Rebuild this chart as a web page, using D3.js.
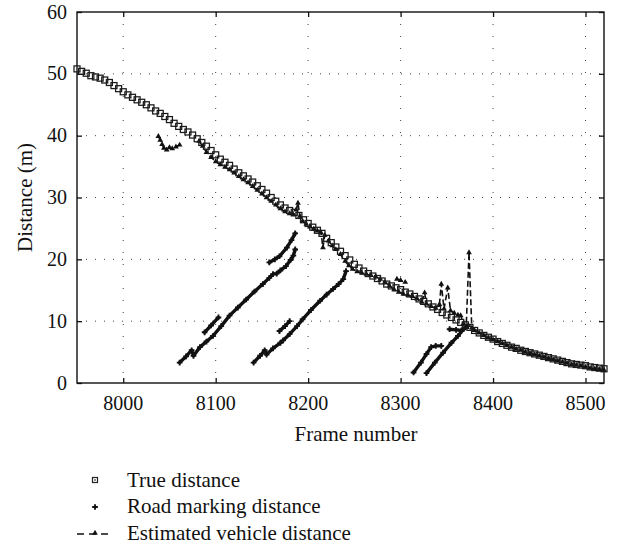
<html>
<head>
<meta charset="utf-8">
<title>Distance vs frame number</title>
<style>
	body { margin: 0; background: #fff; }
	text { font-family: "Liberation Serif", "DejaVu Serif", serif; fill: #111; }
</style>
</head>
<body>
<script src="https://cdn.jsdelivr.net/npm/d3@7"></script>
<div id="chart"></div>

<script language="javascript">

	// tick labels
	var x_ticks = [8000, 8100, 8200, 8300, 8400, 8500];
	var y_ticks = [0, 10, 20, 30, 40, 50, 60];

	// true distance, every 5 frames
	var true_frames = [7950, 7955, 7960, 7965, 7970, 7975, 7980, 7985, 7990, 7995,
		8000, 8005, 8010, 8015, 8020, 8025, 8030, 8035, 8040, 8045,
		8050, 8055, 8060, 8065, 8070, 8075, 8080, 8085, 8090, 8095,
		8100, 8105, 8110, 8115, 8120, 8125, 8130, 8135, 8140, 8145,
		8150, 8155, 8160, 8165, 8170, 8175, 8180, 8185, 8190, 8195,
		8200, 8205, 8210, 8215, 8220, 8225, 8230, 8235, 8240, 8245,
		8250, 8255, 8260, 8265, 8270, 8275, 8280, 8285, 8290, 8295,
		8300, 8305, 8310, 8315, 8320, 8325, 8330, 8335, 8340, 8345,
		8350, 8355, 8360, 8365, 8370, 8375, 8380, 8385, 8390, 8395,
		8400, 8405, 8410, 8415, 8420, 8425, 8430, 8435, 8440, 8445,
		8450, 8455, 8460, 8465, 8470, 8475, 8480, 8485, 8490, 8495,
		8500, 8505, 8510, 8515, 8520];
	var true_dist = [50.8, 50.4, 50.1, 49.7, 49.5, 49.3, 49.0, 48.6, 48.1, 47.6,
		47.1, 46.6, 46.2, 45.8, 45.4, 45.0, 44.5, 44.0, 43.6, 43.1,
		42.6, 42.0, 41.5, 41.0, 40.6, 40.1, 39.5, 38.9, 38.3, 37.6,
		36.9, 36.2, 35.7, 35.2, 34.6, 34.0, 33.5, 33.0, 32.5, 31.9,
		31.3, 30.7, 30.0, 29.4, 28.8, 28.3, 27.9, 27.6, 27.1, 26.4,
		25.8, 25.2, 24.7, 24.2, 23.4, 22.7, 22.0, 21.3, 20.6, 19.9,
		19.2, 18.6, 18.1, 17.7, 17.3, 16.9, 16.5, 16.0, 15.7, 15.4,
		15.1, 14.7, 14.4, 14.0, 13.6, 13.2, 12.8, 12.3, 11.9, 11.4,
		11.0, 10.6, 10.2, 9.8, 9.4, 9.0, 8.5, 8.1, 7.7, 7.4,
		7.1, 6.7, 6.4, 6.1, 5.8, 5.6, 5.3, 5.1, 4.9, 4.7,
		4.5, 4.3, 4.1, 3.9, 3.7, 3.5, 3.3, 3.1, 3.0, 2.9,
		2.8, 2.6, 2.5, 2.4, 2.3];

	// road marking distance, one array of [frame, distance] per run
	var rm_run1 = [[8061, 3.3], [8068, 4.3], [8074, 5.3], [8076, 4.4], [8083, 5.8], [8090, 6.7], [8097, 7.6],
		[8106, 9.2], [8115, 10.9], [8124, 12.2], [8133, 13.5], [8142, 14.8], [8151, 16.0], [8158, 17.0],
		[8162, 17.6], [8166, 17.7], [8170, 18.2], [8176, 18.9], [8181, 19.9], [8184, 20.6], [8186, 21.6]];
	var rm_run2 = [[8088, 8.2], [8095, 9.3], [8103, 10.6]];
	var rm_run3 = [[8158, 19.5], [8164, 20.0], [8169, 20.5], [8177, 21.9], [8182, 23.1], [8186, 24.2]];
	var rm_run4 = [[8141, 3.3], [8148, 4.4], [8153, 5.3], [8155, 4.6], [8162, 5.6], [8170, 6.5], [8173, 6.9],
		[8180, 7.9], [8188, 9.2], [8194, 10.3], [8203, 11.8], [8213, 13.3], [8220, 14.3], [8227, 15.2],
		[8233, 16.0], [8238, 16.8], [8241, 18.1]];
	var rm_run5 = [[8169, 8.4], [8175, 9.2], [8180, 10.0]];
	var rm_run6 = [[8314, 1.7], [8322, 3.3], [8328, 4.7], [8333, 5.8], [8338, 6.0], [8344, 6.0]];
	var rm_run7 = [[8328, 1.6], [8337, 3.3], [8346, 4.9], [8355, 6.5], [8362, 7.6], [8368, 8.7], [8373, 9.2]];
	var rm_run8 = [[8353, 8.7], [8360, 8.6], [8366, 8.5]];

	// estimated vehicle distance (null = no estimate)
	var est_frames = [8038, 8040, 8042, 8044, 8047, 8050, 8053, 8057, 8061, 8070,
		8082, 8086, 8090, 8095, 8100, 8105, 8110, 8115, 8120, 8125,
		8130, 8135, 8140, 8145, 8150, 8155, 8160, 8165, 8170, 8175,
		8180, 8184, 8187, 8189, 8191, 8194, 8198, 8202, 8206, 8210,
		8214, 8216, 8218, 8222, 8226, 8230, 8235, 8240, 8244, 8248,
		8253, 8258, 8263, 8268, 8273, 8278, 8283, 8288, 8293, 8298,
		8303, 8308, 8313, 8318, 8323, 8326, 8328, 8333, 8338, 8342,
		8344, 8347, 8351, 8354, 8358, 8362, 8365, 8368, 8371, 8374,
		8377, 8380, 8385, 8390, 8395, 8400, 8405, 8410, 8415, 8420,
		8425, 8430, 8435, 8440, 8445, 8450, 8455, 8460, 8465, 8470,
		8475, 8480, 8485, 8490, 8495, 8500, 8505, 8510, 8515, 8520,
		8520, 8296, 8300, 8305];
	var est_dist = [39.9, 39.3, 38.6, 38.0, 37.7, 38.1, 37.9, 38.2, 38.5, null,
		39.1, 38.3, 37.3, 36.5, 35.8, 35.3, 34.9, 34.5, 34.0, 33.4,
		32.9, 32.4, 31.8, 31.2, 30.6, 30.0, 29.4, 28.8, 28.2, 27.7,
		27.4, 27.2, 28.0, 29.1, 27.0, 26.2, 25.7, 25.3, 24.9, 24.6,
		24.3, 21.9, 23.9, 23.0, 22.2, 21.6, 20.8, 19.7, 19.0, 18.4,
		18.0, 17.8, 17.6, 17.4, 17.2, 16.8, 16.3, 15.7, 15.1, 14.7,
		14.4, 14.2, 14.0, 13.6, 13.1, 14.6, 12.8, 12.4, 12.1, 12.7,
		16.0, 12.0, 15.4, 11.7, 11.3, 11.0, 10.9, 9.6, 9.2, 21.1,
		8.9, 8.5, 8.1, 7.7, 7.3, 7.0, 6.7, 6.4, 6.1, 5.8,
		5.5, 5.3, 5.0, 4.8, 4.6, 4.4, 4.2, 4.0, 3.8, 3.6,
		3.4, 3.2, 3.0, 2.9, 2.8, 2.6, 2.4, 2.3, 2.2, 2.1,
		null, 16.8, 16.6, 16.3];

	var legend_labels = ["True distance", "Road marking distance", "Estimated vehicle distance"];

	var width = 619, height = 548;
	var p_left = 77, p_right = 604, p_top = 12, p_bottom = 383;

	var svg = d3.select("#chart").append("svg")
		.attr("width", width)
		.attr("height", height);

	var x = d3.scaleLinear().domain([7950, 8520]).range([p_left, p_right]);
	var y = d3.scaleLinear().domain([0, 60]).range([p_bottom, p_top]);

	// dotted grid
	svg.append("g")
		.selectAll("line")
		.data(x_ticks)
		.enter().append("line")
		.attr("x1", function(d) { return x(d); })
		.attr("x2", function(d) { return x(d); })
		.attr("y1", p_top)
		.attr("y2", p_bottom)
		.attr("stroke", "#444")
		.attr("stroke-width", 1)
		.attr("stroke-dasharray", "1,11");

	svg.append("g")
		.selectAll("line")
		.data(y_ticks.slice(1, -1))
		.enter().append("line")
		.attr("x1", p_left)
		.attr("x2", p_right)
		.attr("y1", function(d) { return y(d); })
		.attr("y2", function(d) { return y(d); })
		.attr("stroke", "#444")
		.attr("stroke-width", 1)
		.attr("stroke-dasharray", "1,8");

	// axes with inward ticks on all four sides
	svg.append("g")
		.attr("transform", "translate(0," + p_bottom + ")")
		.call(d3.axisTop(x).tickValues(x_ticks).tickSize(5).tickFormat(""));
	svg.append("g")
		.attr("transform", "translate(0," + p_top + ")")
		.call(d3.axisBottom(x).tickValues(x_ticks).tickSize(5).tickFormat(""));
	svg.append("g")
		.attr("transform", "translate(" + p_left + ",0)")
		.call(d3.axisRight(y).tickValues(y_ticks).tickSize(5).tickFormat(""));
	svg.append("g")
		.attr("transform", "translate(" + p_right + ",0)")
		.call(d3.axisLeft(y).tickValues(y_ticks).tickSize(5).tickFormat(""));
	svg.selectAll(".domain").remove();
	svg.selectAll(".tick line").attr("stroke", "#111").attr("stroke-width", 1.3);

	svg.append("rect")
		.attr("x", p_left)
		.attr("y", p_top)
		.attr("width", p_right - p_left)
		.attr("height", p_bottom - p_top)
		.attr("fill", "none")
		.attr("stroke", "#111")
		.attr("stroke-width", 1.4);

	// tick labels
	svg.append("g")
		.selectAll("text")
		.data(x_ticks)
		.enter().append("text")
		.attr("x", function(d) { return x(d); })
		.attr("y", 410)
		.attr("font-size", "20px")
		.attr("text-anchor", "middle")
		.text(function(d) { return d; });

	svg.append("g")
		.selectAll("text")
		.data(y_ticks)
		.enter().append("text")
		.attr("x", 67)
		.attr("y", function(d) { return y(d) + 6.5; })
		.attr("font-size", "20px")
		.attr("text-anchor", "end")
		.text(function(d) { return d; });

	// axis titles
	svg.append("text")
		.attr("x", 356)
		.attr("y", 441)
		.attr("font-size", "21px")
		.attr("text-anchor", "middle")
		.text("Frame number");

	svg.append("text")
		.attr("transform", "translate(32," + ((p_top + p_bottom) / 2) + ") rotate(-90)")
		.attr("font-size", "21px")
		.attr("text-anchor", "middle")
		.text("Distance (m)");

	// estimated vehicle distance
	var est = est_frames.map(function(f, i) { return [f, est_dist[i]]; });
	var est_line = d3.line()
		.defined(function(d) { return d[1] !== null; })
		.x(function(d) { return x(d[0]); })
		.y(function(d) { return y(d[1]); });

	svg.append("path")
		.datum(est)
		.attr("d", est_line)
		.attr("fill", "none")
		.attr("stroke", "#111")
		.attr("stroke-width", 1.6)
		.attr("stroke-dasharray", "6,3");

	var tri = d3.symbol().type(d3.symbolTriangle).size(14);
	svg.append("g")
		.selectAll("path")
		.data(est.filter(function(d) { return d[1] !== null; }))
		.enter().append("path")
		.attr("d", tri)
		.attr("transform", function(d) { return "translate(" + x(d[0]) + "," + y(d[1]) + ")"; })
		.attr("fill", "#111");

	// road marking distance: dense + markers, drawn as thick runs
	var rm_runs = [rm_run1, rm_run2, rm_run3, rm_run4, rm_run5, rm_run6, rm_run7, rm_run8];
	var rm_line = d3.line()
		.x(function(d) { return x(d[0]); })
		.y(function(d) { return y(d[1]); });

	svg.append("g")
		.selectAll("path")
		.data(rm_runs)
		.enter().append("path")
		.attr("d", rm_line)
		.attr("fill", "none")
		.attr("stroke", "#111")
		.attr("stroke-width", 3.4)
		.attr("stroke-linecap", "round")
		.attr("stroke-linejoin", "round");

	var plus = d3.symbol().type(d3.symbolCross).size(18);
	svg.append("g")
		.selectAll("path")
		.data([].concat.apply([], rm_runs))
		.enter().append("path")
		.attr("d", plus)
		.attr("transform", function(d) { return "translate(" + x(d[0]) + "," + y(d[1]) + ")"; })
		.attr("fill", "#111");

	// true distance squares
	svg.append("g")
		.selectAll("rect")
		.data(true_frames)
		.enter().append("rect")
		.attr("x", function(d) { return x(d) - 3; })
		.attr("y", function(d, i) { return y(true_dist[i]) - 3; })
		.attr("width", 6)
		.attr("height", 6)
		.attr("fill", "none")
		.attr("stroke", "#1a1a1a")
		.attr("stroke-width", 1.25);

	// legend
	var lg = svg.append("g");
	var rows = [487, 513, 540];

	lg.selectAll("text")
		.data(legend_labels)
		.enter().append("text")
		.attr("x", 127)
		.attr("y", function(d, i) { return rows[i]; })
		.attr("font-size", "21px")
		.text(function(d) { return d; });

	lg.append("rect")
		.attr("x", 92.5)
		.attr("y", rows[0] - 9.5)
		.attr("width", 5)
		.attr("height", 5)
		.attr("fill", "none")
		.attr("stroke", "#222")
		.attr("stroke-width", 1.2);
	lg.append("rect")
		.attr("x", 94.3)
		.attr("y", rows[0] - 7.7)
		.attr("width", 1.4)
		.attr("height", 1.4)
		.attr("fill", "#222");

	lg.append("path")
		.attr("d", plus)
		.attr("transform", "translate(95," + (rows[1] - 6) + ")")
		.attr("fill", "#111");

	lg.append("line")
		.attr("x1", 77)
		.attr("x2", 112)
		.attr("y1", rows[2] - 6)
		.attr("y2", rows[2] - 6)
		.attr("stroke", "#111")
		.attr("stroke-width", 1.4)
		.attr("stroke-dasharray", "7,5");
	lg.append("path")
		.attr("d", tri)
		.attr("transform", "translate(95," + (rows[2] - 7) + ")")
		.attr("fill", "#111");

</script>
</body>
</html>
